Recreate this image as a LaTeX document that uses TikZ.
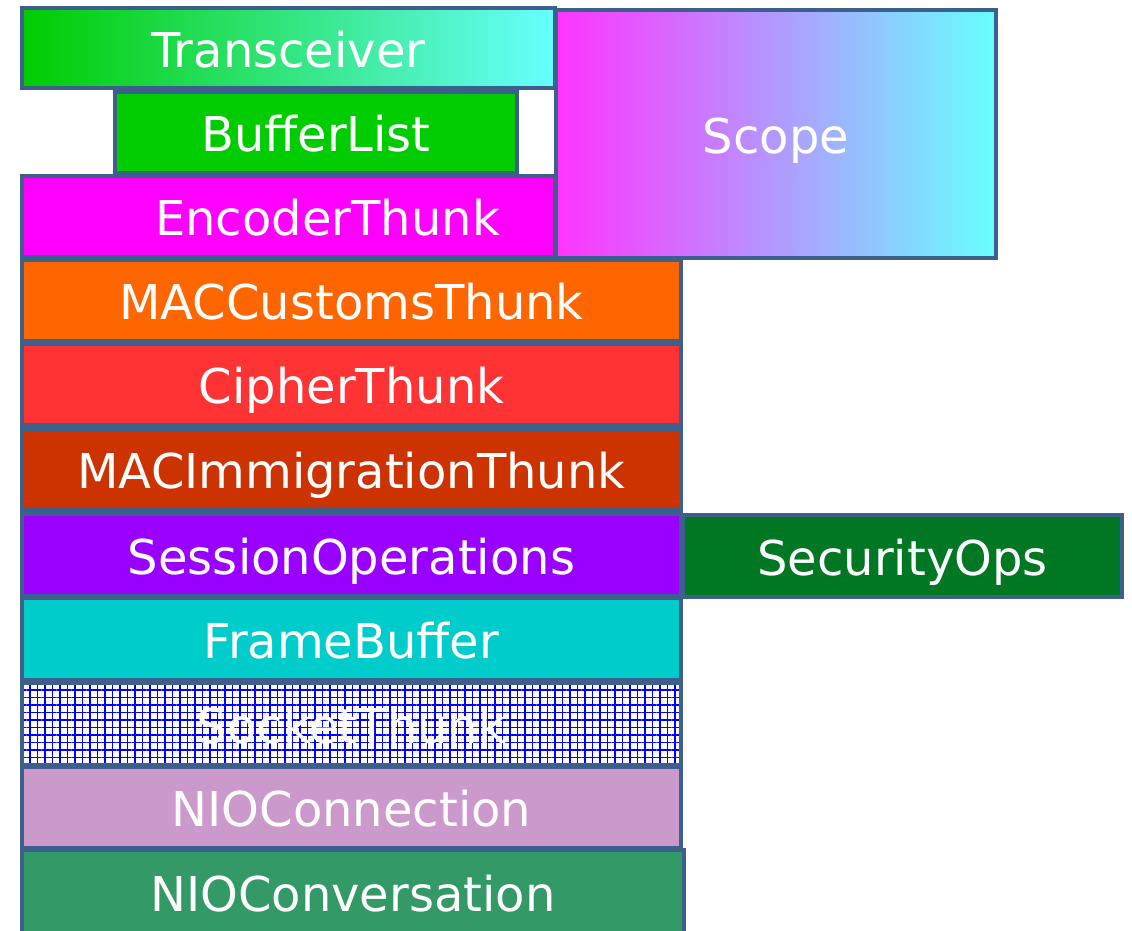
\documentclass[tikz,border=0pt]{standalone}
\usepackage{fontspec}
\setmainfont{DejaVu Sans}
\usetikzlibrary{patterns.meta}
\definecolor{edge}{HTML}{3C5F8B}
\definecolor{lime}{HTML}{00CC00}
\definecolor{aqua}{HTML}{66FFFF}
\definecolor{pinkish}{HTML}{FF33FF}
\definecolor{encfill}{HTML}{FF00FF}
\definecolor{custfill}{HTML}{FF6600}
\definecolor{ciphfill}{HTML}{FF3333}
\definecolor{immfill}{HTML}{CC3300}
\definecolor{sessfill}{HTML}{9900FF}
\definecolor{secfill}{HTML}{007722}
\definecolor{framefill}{HTML}{00CCCC}
\definecolor{connfill}{HTML}{CC99CC}
\definecolor{convfill}{HTML}{339966}
\begin{document}
\begin{tikzpicture}[x=1pt,y=-1pt,
	layer/.style={draw=edge,line width=4pt,text=white,inner sep=0pt,outer sep=0pt,
		anchor=north west,minimum height=81pt,text height=38pt,text depth=0pt,
		font=\fontsize{48}{58}\selectfont}]
	\useasboundingbox (0,0) rectangle (1132,930);
	% upper part
	\node[layer,minimum width=533pt,minimum height=80pt,left color=lime,right color=aqua] (trx) at (22,8) {Transceiver};
	\node[layer,minimum width=402pt,fill=lime] (buflist) at (115,92) {BufferList};
	\node[layer,minimum width=533pt,fill=encfill] (enc) at (22,176) {\hspace*{78pt}EncoderThunk};
	\node[layer,minimum width=440pt,minimum height=248pt,left color=pinkish,right color=aqua] (scope) at (556,10) {Scope};
	% the stack
	\node[layer,minimum width=659pt,fill=custfill] (maccust) at (22,260) {MACCustomsThunk};
	\node[layer,minimum width=659pt,fill=ciphfill] (cipher) at (22,344) {CipherThunk};
	\node[layer,minimum width=659pt,fill=immfill] (macimm) at (22,429) {MACImmigrationThunk};
	\node[layer,minimum width=659pt,minimum height=82pt,fill=sessfill] (sessops) at (22,514) {SessionOperations};
	\node[layer,minimum width=439pt,minimum height=82pt,fill=secfill] (secops) at (683,515) {SecurityOps};
	\node[layer,minimum width=659pt,minimum height=82pt,fill=framefill] (framebuf) at (22,598) {FrameBuffer};
	\node[layer,minimum width=659pt,minimum height=82pt,preaction={fill=white},
		pattern={Hatch[distance=7.5pt,angle=0,line width=1.2pt]},pattern color=blue] (sock) at (22,683) {SocketThunk};
	\node[layer,minimum width=659pt,fill=connfill] (nioconn) at (22,767) {NIOConnection};
	\node[layer,minimum width=662pt,minimum height=84pt,fill=convfill] (nioconv) at (22,850) {NIOConversation};
\end{tikzpicture}
\end{document}
